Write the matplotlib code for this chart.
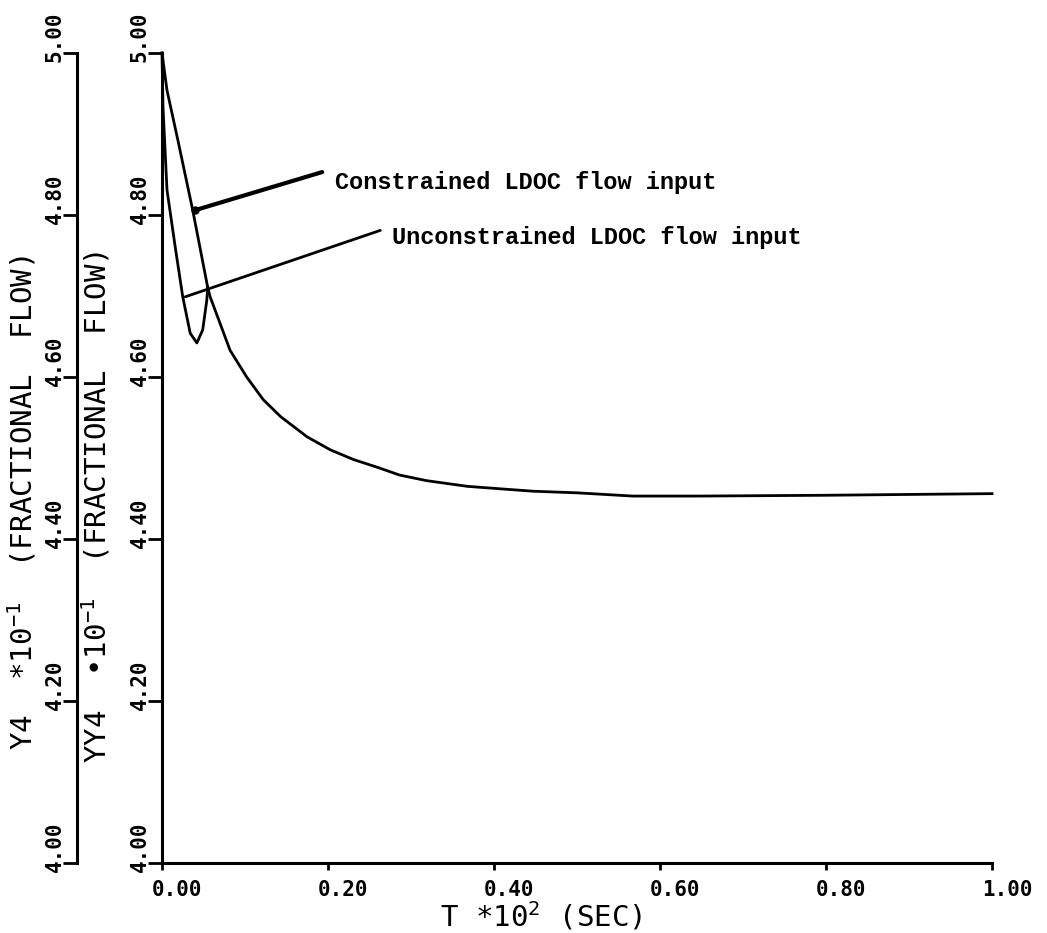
"""
LDOC 流量输入响应曲线 — 复刻旧式绘图仪图表
"""

import matplotlib
matplotlib.use("Agg")
import matplotlib.pyplot as plt
from matplotlib.transforms import ScaledTranslation

plt.rcParams["font.family"] = ["DejaVu Sans Mono", "DejaVu Sans"]
plt.rcParams["mathtext.default"] = "regular"

# 数据
t_constrained = [0.000, 0.006, 0.019, 0.037]
y_constrained = [5.000, 4.954, 4.893, 4.806]

t_unconstrained = [0.000, 0.0012, 0.006, 0.016, 0.025, 0.034, 0.042, 0.049, 0.054]
y_unconstrained = [5.000, 4.933, 4.831, 4.760, 4.699, 4.654, 4.642, 4.658, 4.695]

# 两条曲线汇合之后的共同尾段
t_shared = [0.055, 0.058, 0.082, 0.102, 0.122, 0.143, 0.175, 0.203, 0.231, 0.261,
            0.286, 0.319, 0.368, 0.407, 0.447, 0.500, 0.567, 0.648, 0.800, 1.000]
y_shared = [4.711, 4.699, 4.633, 4.600, 4.572, 4.551, 4.526, 4.510, 4.498, 4.488,
            4.479, 4.472, 4.465, 4.462, 4.459, 4.457, 4.453, 4.453, 4.454, 4.456]

x_ticks = [0.0, 0.2, 0.4, 0.6, 0.8, 1.0]
y_ticks = [4.0, 4.2, 4.4, 4.6, 4.8, 5.0]

label_constrained = "Constrained LDOC flow input"
label_unconstrained = "Unconstrained LDOC flow input"

# 标注: (曲线上的点, 引线末端, 文字位置)
ann_constrained = ((0.040, 4.806), (0.193, 4.853), (0.208, 4.840))
ann_unconstrained = ((0.028, 4.699), (0.263, 4.781), (0.277, 4.772))

fig = plt.figure(figsize=(10.47, 9.33), dpi=100)
ax = fig.add_axes([162 / 1047, 70 / 933, 830 / 1047, 810 / 933])

ax.plot(t_constrained + t_shared, y_constrained + y_shared,
        color="black", linewidth=2.0, clip_on=False)
ax.plot(t_unconstrained + t_shared[:1], y_unconstrained + y_shared[:1],
        color="black", linewidth=2.0, clip_on=False)

ax.set_xlim(0, 1.0)
ax.set_ylim(4.0, 5.0)
for side in ("top", "right"):
    ax.spines[side].set_visible(False)
for side in ("left", "bottom"):
    ax.spines[side].set_linewidth(2.2)

# 外侧第二根纵轴
ax2 = ax.twinx()
ax2.set_ylim(4.0, 5.0)
ax2.yaxis.set_ticks_position("left")
ax2.yaxis.set_label_position("left")
ax2.spines["left"].set_position(("outward", 85 * 72 / 100))
ax2.spines["left"].set_linewidth(2.2)
for side in ("top", "right", "bottom"):
    ax2.spines[side].set_visible(False)

up = ScaledTranslation(0, 16 / 100, fig.dpi_scale_trans)
right = ScaledTranslation(15 / 100, 0, fig.dpi_scale_trans)

for a in (ax, ax2):
    a.set_yticks(y_ticks)
    a.set_yticklabels([f"{v:.2f}" for v in y_ticks], fontweight="bold")
    a.tick_params(axis="y", direction="out", length=10, width=2.0,
                  pad=-1, labelsize=15, labelrotation=90)
    for lab in a.get_yticklabels():
        lab.set_va("center")
        lab.set_transform(lab.get_transform() + up)

ax.set_xticks(x_ticks)
ax.set_xticklabels([f"{v:.2f}" for v in x_ticks], fontweight="bold")
ax.tick_params(axis="x", direction="out", length=5, width=2.0, pad=7, labelsize=15)
for lab in ax.get_xticklabels():
    lab.set_transform(lab.get_transform() + right)

ax2.set_ylabel("Y4  *10$^{-1}$  (FRACTIONAL  FLOW)", fontsize=21)
ax2.yaxis.set_label_coords(-0.149, 0.445)
ax.set_ylabel("YY4  \u202210$^{-1}$  (FRACTIONAL  FLOW)", fontsize=21)
ax.yaxis.set_label_coords(-0.060, 0.44)
ax.set_xlabel("T *10$^2$ (SEC)", fontsize=21)
ax.xaxis.set_label_coords(0.4566, -0.045)

# 标注引线和文字
for (pt, end, txt), label, lw in (
    (ann_constrained, label_constrained, 3.0),
    (ann_unconstrained, label_unconstrained, 2.0),
):
    ax.annotate("", xy=pt, xytext=end,
                arrowprops=dict(arrowstyle="-", color="black", linewidth=lw,
                                shrinkA=0, shrinkB=0))
    ax.text(txt[0], txt[1], label, fontsize=17, fontweight="bold",
            family=["Liberation Mono", "DejaVu Sans Mono"],
            ha="left", va="center")
ax.plot(*ann_constrained[0], marker="o", markersize=5, color="black")

fig.savefig("out.png", dpi=100)
plt.close(fig)
